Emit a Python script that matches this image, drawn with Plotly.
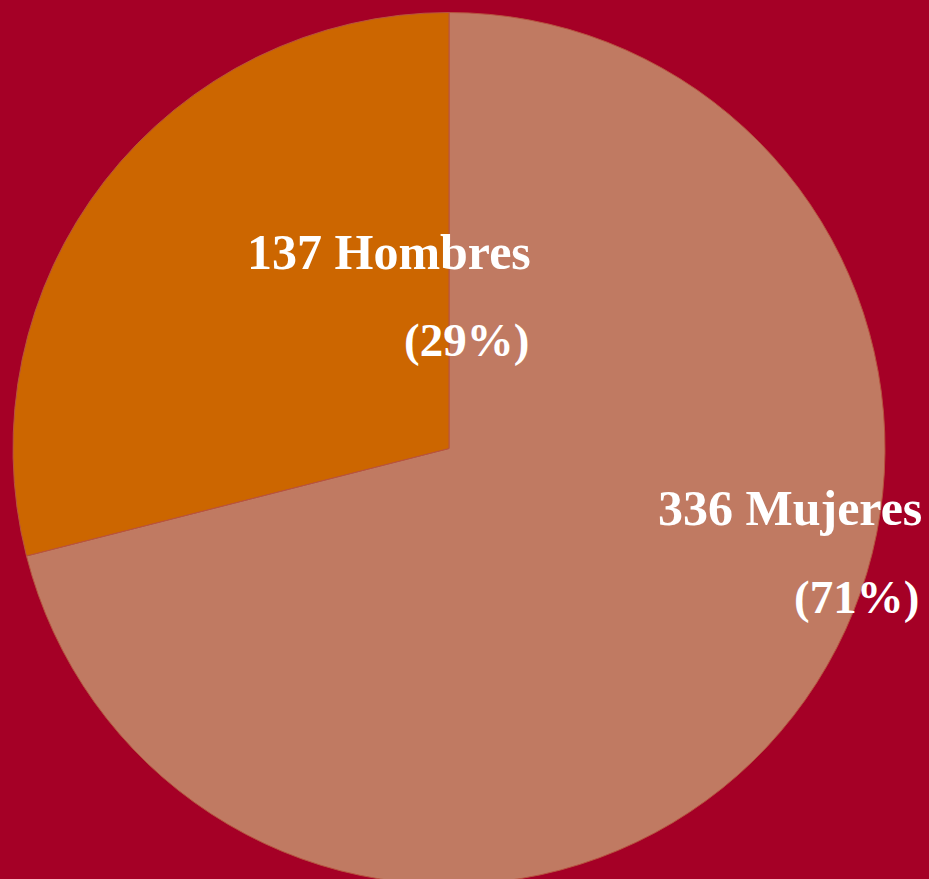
import plotly.graph_objects as go

labels = ["Mujeres", "Hombres"]
values = [336, 137]
colors = ["#C07A62", "#CC6600"]

total = sum(values)
pcts = [round(v * 100 / total) for v in values]

W, H = 929, 897
bg = "#A50026"

fig = go.Figure(go.Pie(
    labels=labels,
    values=values,
    sort=False,
    direction="clockwise",
    rotation=0,
    marker=dict(colors=colors, line=dict(color="#B8533F", width=1)),
    textinfo="none",
    hoverinfo="label+value+percent",
    domain=dict(x=[13 / W, 885 / W], y=[0, 1]),
    showlegend=False,
))

font = dict(family="Liberation Serif, Times New Roman, serif", size=50, color="white")
pfont = dict(family="Liberation Serif, Times New Roman, serif", size=47, color="white")
# label anchor positions (right edge, vertical centre) in pixels
name_pos = {"Hombres": (533, 252), "Mujeres": (924, 508)}
pct_pos = {"Hombres": (531, 340), "Mujeres": (921, 597)}

anns = []
for lab, v, p in zip(labels, values, pcts):
    x, y = name_pos[lab]
    anns.append(dict(text=f"<b>{v} {lab}</b>", x=x / W, y=1 - y / H, xref="paper", yref="paper",
                     xanchor="right", yanchor="middle", showarrow=False, font=font))
    x, y = pct_pos[lab]
    anns.append(dict(text=f"<b>({p}%)</b>", x=x / W, y=1 - y / H, xref="paper", yref="paper",
                     xanchor="right", yanchor="middle", showarrow=False, font=pfont))

fig.update_layout(
    width=W, height=H,
    margin=dict(l=0, r=0, t=0, b=0),
    paper_bgcolor=bg, plot_bgcolor=bg,
    annotations=anns,
)

fig.write_html(
    "out.html",
    config={"displayModeBar": False},
    post_script="document.body.style.margin='0';document.body.style.overflow='hidden';"
                "document.body.style.background='" + bg + "';",
)
